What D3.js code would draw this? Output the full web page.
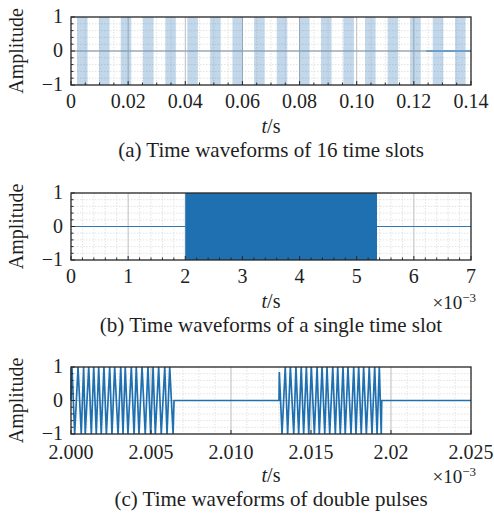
<!DOCTYPE html>
<html><head><meta charset="utf-8">
<script src="https://cdn.jsdelivr.net/npm/d3@7"></script>
<style>
body{margin:0;background:#fff}
svg{display:block}
text{font-family:"Liberation Serif","Times New Roman",serif;fill:#1e1e1e}
</style>
</head><body>
<svg id="chart" width="494" height="516" font-family="Liberation Serif, Times New Roman, serif"></svg>
<script>
// ---------------- data ----------------
const yTicks = [-1, 0, 1];
const yTickLabels = ["\u22121", "0", "1"];
const yMinorTicks = [-0.8,-0.6,-0.4,-0.2,0.2,0.4,0.6,0.8];

// (a) 16 time slots (seconds)
const aXTicks = [0, 0.02, 0.04, 0.06, 0.08, 0.10, 0.12, 0.14];
const aXTickLabels = ["0", "0.02", "0.04", "0.06", "0.08", "0.10", "0.12", "0.14"];
const aXMinor = [0.005,0.01,0.015,0.025,0.03,0.035,0.045,0.05,0.055,0.065,0.07,0.075,0.085,0.09,0.095,0.105,0.11,0.115,0.125,0.13,0.135];
const aPulseStarts = [0.0021,0.0098,0.0174,0.0252,0.0330,0.0407,0.0487,0.0565,0.0641,0.0720,0.0798,0.0875,0.0953,0.1029,0.1108,0.1187,0.1266,0.1344];
const aPulseWidth = 0.0037;
const aTailSegment = [0.1243, 0.14];

// (b) single time slot (x 10^-3 s)
const bXTicks = [0, 1, 2, 3, 4, 5, 6, 7];
const bXTickLabels = ["0","1","2","3","4","5","6","7"];
const bXMinor = [0.2,0.4,0.6,0.8,1.2,1.4,1.6,1.8,2.2,2.4,2.6,2.8,3.2,3.4,3.6,3.8,4.2,4.4,4.6,4.8,5.2,5.4,5.6,5.8,6.2,6.4,6.6,6.8];
const bPulse = [2.0, 5.355];

// (c) double pulses (x 10^-3 s); waveform vertices as [microseconds after 2.000e-3 s, amplitude]
const cXTicks = [2.000, 2.005, 2.010, 2.015, 2.020, 2.025];
const cXTickLabels = ["2.000", "2.005", "2.010", "2.015", "2.02", "2.025"];
const cXMinor = [2.001,2.002,2.003,2.004,2.006,2.007,2.008,2.009,2.011,2.012,2.013,2.014,2.016,2.017,2.018,2.019,2.021,2.022,2.023,2.024];
const cWaveUs = [
  [0.00,0],[0.02,0.9],[0.06,1],[0.23,-1],[0.44,1],[0.64,-1],[0.79,1],[0.89,-1],[1.11,1],[1.27,-1],[1.42,1],[1.58,-1],
  [1.73,1],[1.89,-1],[2.06,1],[2.21,-1],[2.42,1],[2.56,-1],[2.73,1],[2.94,-1],[3.11,1],[3.25,-1],
  [3.39,1],[3.56,-1],[3.77,1],[3.94,-1],[4.08,1],[4.25,-1],[4.44,1],[4.64,-1],[4.81,1],[4.98,-1],
  [5.13,1],[5.27,-1],[5.48,1],[5.64,-1],[5.86,1],[6.00,-1],[6.17,1],[6.38,-1],[6.44,0],
  [13.00,0],[13.02,0.85],[13.19,-1],[13.39,1],[13.54,-1],[13.71,1],[13.92,-1],[14.06,1],[14.23,-1],[14.39,1],
  [14.54,-1],[14.71,1],[14.86,-1],[15.02,1],[15.21,-1],[15.38,1],[15.52,-1],[15.69,1],[15.86,-1],
  [16.00,1],[16.17,-1],[16.36,1],[16.52,-1],[16.67,1],[16.83,-1],[17.00,1],[17.14,-1],[17.31,1],
  [17.50,-1],[17.67,1],[17.81,-1],[17.98,1],[18.14,-1],[18.29,1],[18.46,-1],[18.64,1],[18.81,-1],
  [18.98,1],[19.13,-1],[19.27,1],[19.39,-1],[19.42,0],[25.00,0]
];

// ---------------- drawing ----------------
const svg = d3.select("#chart");
const L = 71, R = 471;
const C_LINE = "#1f70b1", C_FRAME = "#262626";

function panel(cfg) {
  const x = d3.scaleLinear().domain(cfg.xDomain).range([L, R]);
  const y = d3.scaleLinear().domain([-1, 1]).range([cfg.bottom, cfg.top]);
  const g = svg.append("g");
  // minor grid
  g.selectAll(null).data(cfg.xMinor).join("line")
    .attr("x1", d => x(d)).attr("x2", d => x(d)).attr("y1", cfg.top).attr("y2", cfg.bottom)
    .attr("stroke", "#dadada").attr("stroke-width", 0.8).attr("stroke-dasharray", "1.5,1.5");
  g.selectAll(null).data(yMinorTicks).join("line")
    .attr("x1", L).attr("x2", R).attr("y1", d => y(d)).attr("y2", d => y(d))
    .attr("stroke", "#dadada").attr("stroke-width", 0.8).attr("stroke-dasharray", "1.5,1.5");
  // major grid
  g.selectAll(null).data(cfg.xTicks.slice(1, -1)).join("line")
    .attr("x1", d => x(d)).attr("x2", d => x(d)).attr("y1", cfg.top).attr("y2", cfg.bottom)
    .attr("stroke", "#bdbdbd").attr("stroke-width", 1);
  g.append("line").attr("x1", L).attr("x2", R).attr("y1", y(0)).attr("y2", y(0))
    .attr("stroke", "#bdbdbd").attr("stroke-width", 1);

  cfg.draw(g, x, y);

  // ticks (inside)
  g.selectAll(null).data(cfg.xTicks).join("line")
    .attr("x1", d => x(d)).attr("x2", d => x(d)).attr("y1", cfg.bottom).attr("y2", cfg.bottom - 4)
    .attr("stroke", C_FRAME).attr("stroke-width", 1);
  g.selectAll(null).data(cfg.xMinorTicks).join("line")
    .attr("x1", d => x(d)).attr("x2", d => x(d)).attr("y1", cfg.bottom).attr("y2", cfg.bottom - 2.5)
    .attr("stroke", C_FRAME).attr("stroke-width", 1);
  g.selectAll(null).data(yTicks).join("line")
    .attr("x1", L).attr("x2", L + 4).attr("y1", d => y(d)).attr("y2", d => y(d))
    .attr("stroke", C_FRAME).attr("stroke-width", 1);
  g.selectAll(null).data(yMinorTicks).join("line")
    .attr("x1", L).attr("x2", L + 2.5).attr("y1", d => y(d)).attr("y2", d => y(d))
    .attr("stroke", C_FRAME).attr("stroke-width", 1);
  // frame
  g.append("rect").attr("x", L).attr("y", cfg.top).attr("width", R - L).attr("height", cfg.bottom - cfg.top)
    .attr("fill", "none").attr("stroke", C_FRAME).attr("stroke-width", 1.3);

  // tick labels
  g.selectAll(null).data(cfg.xTicks).join("text")
    .attr("x", d => x(d)).attr("y", cfg.bottom + cfg.tickOffset).attr("text-anchor", "middle")
    .attr("font-size", 20).text((d, i) => cfg.xTickLabels[i]);
  g.selectAll(null).data(yTicks).join("text")
    .attr("x", L - 8).attr("y", d => y(d) + 6).attr("text-anchor", "end")
    .attr("font-size", 20).text((d, i) => yTickLabels[i]);
  // y label
  const ym = (cfg.top + cfg.bottom) / 2;
  g.append("text").attr("transform", `translate(23,${ym}) rotate(-90)`)
    .attr("text-anchor", "middle").attr("font-size", 20).text("Amplitude");
  // x label
  const xl = g.append("text").attr("x", 271).attr("y", cfg.bottom + 48).attr("text-anchor", "middle").attr("font-size", 20);
  xl.append("tspan").attr("font-style", "italic").text("t");
  xl.append("tspan").text("/s");
  if (cfg.exponent) {
    const ex = g.append("text").attr("x", 476).attr("y", cfg.bottom + 49).attr("text-anchor", "end").attr("font-size", 19);
    ex.append("tspan").text("\u00d710");
    ex.append("tspan").attr("font-size", 13).attr("dy", -7).text("\u22123");
  }
  g.append("text").attr("x", 271).attr("y", cfg.bottom + 72).attr("text-anchor", "middle")
    .attr("font-size", 21).text(cfg.title);
}

panel({
  top: 17, bottom: 85, xDomain: [0, 0.14], tickOffset: 23,
  xTicks: aXTicks, xTickLabels: aXTickLabels, xMinor: aXMinor, xMinorTicks: aXMinor,
  title: "(a) Time waveforms of 16 time slots",
  draw: (g, x, y) => {
    g.selectAll(null).data(aPulseStarts).join("rect")
      .attr("x", d => x(d)).attr("width", d => x(d + aPulseWidth) - x(d))
      .attr("y", y(1)).attr("height", y(-1) - y(1))
      .attr("fill", C_LINE).attr("fill-opacity", 0.27);
    g.append("line").attr("x1", x(0)).attr("x2", x(0.14)).attr("y1", y(0)).attr("y2", y(0))
      .attr("stroke", "#8a9fb2").attr("stroke-width", 1);
    g.append("line").attr("x1", x(aTailSegment[0])).attr("x2", x(aTailSegment[1])).attr("y1", y(0)).attr("y2", y(0))
      .attr("stroke", "#6f9dc6").attr("stroke-width", 2.2);
  }
});

panel({
  top: 193, bottom: 260, xDomain: [0, 7], tickOffset: 23,
  xTicks: bXTicks, xTickLabels: bXTickLabels, xMinor: bXMinor, xMinorTicks: bXMinor,
  exponent: true,
  title: "(b) Time waveforms of a single time slot",
  draw: (g, x, y) => {
    g.append("line").attr("x1", x(0)).attr("x2", x(bPulse[0])).attr("y1", y(0)).attr("y2", y(0))
      .attr("stroke", "#2a7ab8").attr("stroke-width", 1.2);
    g.append("line").attr("x1", x(bPulse[1])).attr("x2", x(7)).attr("y1", y(0)).attr("y2", y(0))
      .attr("stroke", "#2a7ab8").attr("stroke-width", 1.2);
    g.append("rect").attr("x", x(bPulse[0])).attr("width", x(bPulse[1]) - x(bPulse[0]))
      .attr("y", y(1)).attr("height", y(-1) - y(1)).attr("fill", C_LINE);
  }
});

panel({
  top: 367, bottom: 434, xDomain: [2.000, 2.025], tickOffset: 25,
  xTicks: cXTicks, xTickLabels: cXTickLabels, xMinor: cXMinor, xMinorTicks: [],
  exponent: true,
  title: "(c) Time waveforms of double pulses",
  draw: (g, x, y) => {
    const line = d3.line().x(d => x(2 + d[0] / 1000)).y(d => y(d[1]));
    g.append("path").datum(cWaveUs).attr("d", line)
      .attr("fill", "none").attr("stroke", C_LINE).attr("stroke-width", 1.7).attr("stroke-linejoin", "miter");
  }
});
</script>
</body></html>
